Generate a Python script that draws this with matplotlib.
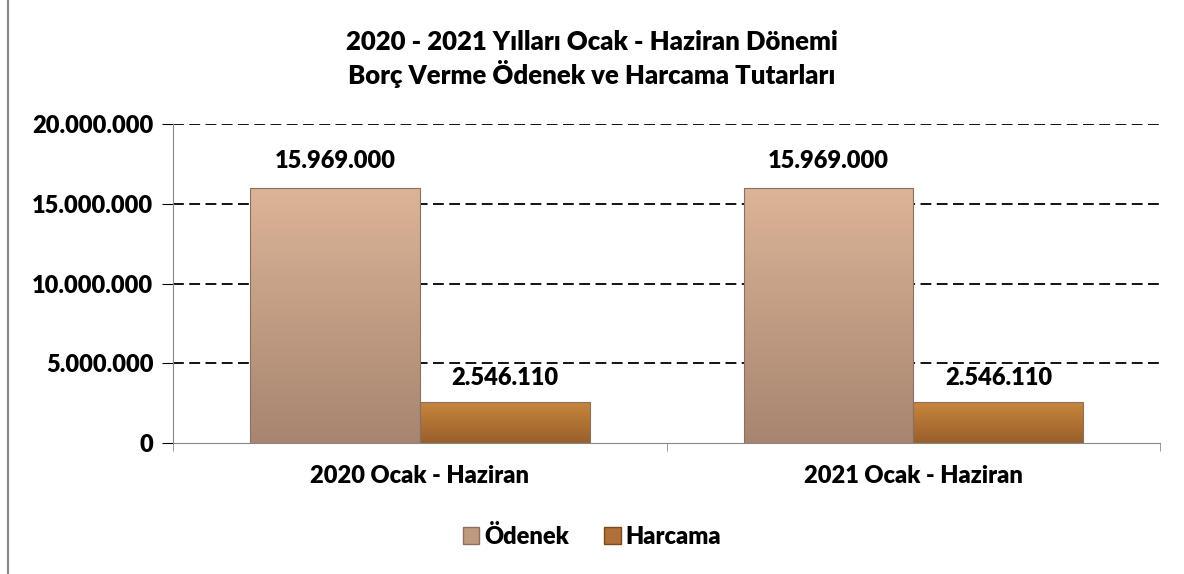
import numpy as np
import matplotlib.pyplot as plt
from matplotlib.patches import Patch
from matplotlib.lines import Line2D

plt.rcParams['font.family'] = ['Lato', 'DejaVu Sans']

kategoriler = ['2020 Ocak - Haziran', '2021 Ocak - Haziran']
odenek = [15969000, 15969000]
harcama = [2546110, 2546110]
seriler = ['Ödenek', 'Harcama']
y_ticks = [0, 5000000, 10000000, 15000000, 20000000]

FS = 17
KALIN = 800


def nokta_format(v):
    return f'{v:,.0f}'.replace(',', '.')


def gradyan_bar(ax, x0, genislik, yukseklik, ust, alt):
    ust = np.array(plt.matplotlib.colors.to_rgb(ust))
    alt = np.array(plt.matplotlib.colors.to_rgb(alt))
    t = np.linspace(0, 1, 64)[:, None]
    img = (ust * (1 - t) + alt * t)[:, None, :]
    ax.imshow(img, extent=(x0, x0 + genislik, 0, yukseklik), origin='upper',
              aspect='auto', zorder=3, interpolation='bilinear')
    ax.add_patch(plt.Rectangle((x0, 0), genislik, yukseklik, fill=False,
                               edgecolor='#8a7060', lw=0.8, zorder=4))


fig = plt.figure(figsize=(11.84, 5.74), dpi=100)
ax = fig.add_axes([0.146, 0.228, 0.834, 0.556])

w = 0.344
x = np.arange(len(kategoriler))
renkler = [('#dcb497', '#a78570'), ('#c8853c', '#99602c')]
for i in range(len(kategoriler)):
    gradyan_bar(ax, x[i] - w, w, odenek[i], *renkler[0])
    gradyan_bar(ax, x[i], w, harcama[i], *renkler[1])
    ax.text(x[i] - w / 2, odenek[i] + 1000000, nokta_format(odenek[i]),
            ha='center', va='bottom', fontsize=FS, fontweight=KALIN)
    ax.text(x[i] + w / 2, harcama[i] + 850000, nokta_format(harcama[i]),
            ha='center', va='bottom', fontsize=FS, fontweight=KALIN)

ax.set_xlim(-0.5, 1.5)
ax.set_ylim(0, 20000000)
ax.set_yticks(y_ticks)
ax.set_yticklabels([nokta_format(v) for v in y_ticks], fontsize=FS, fontweight=KALIN)
ax.set_xticks(x)
ax.set_xticklabels(kategoriler, fontsize=FS, fontweight=KALIN)
ax.set_xticks([-0.5, 0.5, 1.5], minor=True)
ax.tick_params(axis='x', which='major', length=0, pad=16)
ax.tick_params(axis='x', which='minor', length=6, color='#888888')
ax.tick_params(axis='y', length=8, color='black', pad=6)
for v in y_ticks[1:]:
    ax.axhline(v, color='black', ls=(0, (6, 3)), lw=1.3, zorder=1)
for s in ['top', 'right']:
    ax.spines[s].set_visible(False)
ax.spines['left'].set_color('#888888')
ax.spines['bottom'].set_color('#888888')
ax.spines['left'].set_zorder(5)
ax.spines['bottom'].set_zorder(5)

fig.text(0.5, 0.927, '2020 - 2021 Yılları Ocak - Haziran Dönemi', ha='center', va='center',
         fontsize=18.5, fontweight=KALIN)
fig.text(0.5, 0.871, 'Borç Verme Ödenek ve Harcama Tutarları', ha='center', va='center',
         fontsize=18.5, fontweight=KALIN)

handles = [Patch(facecolor='#c09a80', edgecolor='#8a7060'),
           Patch(facecolor='#b07038', edgecolor='#7a4a20')]
fig.legend(handles, seriler, loc='center', bbox_to_anchor=(0.5, 0.066), ncol=2,
           frameon=False, prop={'size': FS, 'weight': KALIN}, handlelength=0.7,
           handleheight=0.7, handletextpad=0.2, columnspacing=1.5)

fig.add_artist(Line2D([0.007, 0.007], [0, 1], color='#888888', lw=1.5))

fig.savefig('out.png', dpi=100)
